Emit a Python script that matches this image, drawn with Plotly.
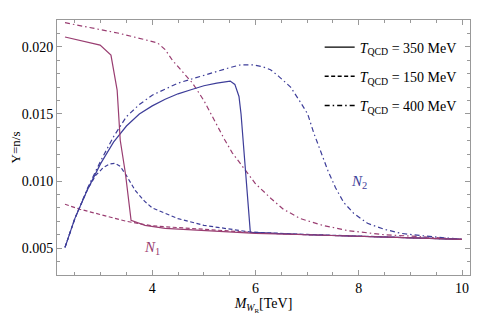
import plotly.graph_objects as go

# N1 (magenta) curves
n1_350_x = [2.31, 2.99, 3.20, 3.32, 3.38, 3.48, 3.59, 3.86, 4.25, 5.0, 6.0, 7.0, 8.0, 9.0, 10.0]
n1_350_y = [0.02073, 0.02013, 0.01939, 0.01678, 0.01304, 0.01058, 0.00707, 0.0067, 0.00648, 0.0063, 0.0061, 0.00600, 0.00590, 0.00578, 0.00566]

n1_150_x = [2.31, 2.6, 3.0, 3.5, 4.0, 5.0, 6.0, 7.0, 8.0, 9.0, 10.0]
n1_150_y = [0.00827, 0.0079, 0.0075, 0.0070, 0.00666, 0.0064, 0.00615, 0.0060, 0.0059, 0.00578, 0.00566]

n1_400_x = [2.31, 3.37, 4.1, 4.25, 4.39, 4.6, 4.78, 5.0, 5.2, 5.4, 5.55, 5.71, 6.0, 6.3, 6.54, 6.87, 7.3, 7.8, 8.5, 9.0, 10.0]
n1_400_y = [0.0218, 0.0210, 0.0203, 0.0198, 0.0190, 0.0181, 0.0173, 0.0160, 0.0145, 0.0131, 0.0121, 0.0113, 0.0098, 0.0087, 0.0079, 0.0072, 0.0067, 0.0063, 0.0060, 0.0059, 0.00566]

# N2 (blue) curves
n2_350_x = [2.31, 2.5, 2.75, 3.0, 3.25, 3.5, 3.75, 4.0, 4.25, 4.5, 4.75, 5.0, 5.25, 5.51, 5.6, 5.68, 5.72, 5.9, 7.0, 8.0, 9.0, 10.0]
n2_350_y = [0.00506, 0.0072, 0.0094, 0.0113, 0.0129, 0.0141, 0.0150, 0.0156, 0.0161, 0.0165, 0.0168, 0.0171, 0.0173, 0.01745, 0.0172, 0.0163, 0.0150, 0.00618, 0.0060, 0.0059, 0.00578, 0.00566]

n2_150_x = [2.31, 2.5, 2.75, 2.9, 3.05, 3.18, 3.28, 3.38, 3.5, 3.67, 3.85, 4.0, 4.25, 4.5, 5.0, 5.5, 5.9, 7.0, 8.0, 9.0, 10.0]
n2_150_y = [0.00506, 0.0072, 0.0094, 0.0104, 0.0110, 0.01128, 0.01133, 0.0111, 0.0104, 0.0093, 0.0085, 0.0080, 0.0076, 0.0072, 0.0067, 0.0064, 0.0062, 0.00602, 0.0059, 0.00578, 0.00566]

n2_400_x = [2.31, 2.5, 2.75, 3.0, 3.25, 3.5, 3.75, 4.0, 4.5, 5.0, 5.5, 5.71, 5.95, 6.15, 6.29, 6.45, 6.68, 6.87, 7.01, 7.13, 7.26, 7.40, 7.55, 7.71, 7.9, 8.17, 8.5, 8.82, 9.3, 10.0]
n2_400_y = [0.00506, 0.0072, 0.0095, 0.0115, 0.0133, 0.0148, 0.0157, 0.0164, 0.0173, 0.0179, 0.01845, 0.01866, 0.01866, 0.0185, 0.0183, 0.0178, 0.0170, 0.01588, 0.0150, 0.01357, 0.0122, 0.0108, 0.0095, 0.0084, 0.0076, 0.00685, 0.0064, 0.0061, 0.0059, 0.00566]

x_ticks = [4, 6, 8, 10]
y_ticks = [0.005, 0.010, 0.015, 0.020]
y_tick_text = ["0.005", "0.010", "0.015", "0.020"]
legend_labels = ["<i>T</i><sub>QCD</sub> = 350 MeV",
                 "<i>T</i><sub>QCD</sub> = 150 MeV",
                 "<i>T</i><sub>QCD</sub> = 400 MeV"]

MAG = "#993D71"
BLUE = "#3D3D99"
DASH = "4px,2.5px"
DASHDOT = "5px,3px,1.5px,3px"
FONT = "Liberation Serif"

fig = go.Figure()

def add(x, y, color, dash):
    fig.add_trace(go.Scatter(x=x, y=y, mode="lines", showlegend=False,
                             line=dict(color=color, width=1.2, dash=dash)))

add(n1_400_x, n1_400_y, MAG, DASHDOT)
add(n2_400_x, n2_400_y, BLUE, DASHDOT)
add(n2_150_x, n2_150_y, BLUE, DASH)
add(n1_150_x, n1_150_y, MAG, DASH)
add(n2_350_x, n2_350_y, BLUE, "solid")
add(n1_350_x, n1_350_y, MAG, "solid")

for i, (lab, d) in enumerate(zip(legend_labels, ["solid", DASH, DASHDOT])):
    fig.add_trace(go.Scatter(x=[None], y=[None], mode="lines", name=lab,
                             legendgroup=f"g{i}",
                             line=dict(color="black", width=1.3, dash=d)))

fig.add_annotation(x=4.0, y=0.0050, text="<i>N</i><sub>1</sub>", showarrow=False,
                   font=dict(family=FONT, size=15, color=MAG))
fig.add_annotation(x=8.0, y=0.0099, text="<i>N</i><sub>2</sub>", showarrow=False,
                   font=dict(family=FONT, size=15, color=BLUE))

axis_common = dict(showline=True, linecolor="#999999", linewidth=1, mirror="allticks",
                   ticks="inside", ticklen=5, tickcolor="#999999", showgrid=False,
                   zeroline=False, automargin=False,
                   tickfont=dict(family=FONT, size=14, color="black"))

fig.update_xaxes(range=[2.155, 10.155], tickvals=x_ticks,
                 minor=dict(dtick=0.5, ticks="inside", ticklen=3, tickcolor="#999999", showgrid=False),
                 title=dict(text="<i>M</i><sub><i>W</i><sub>R</sub></sub>[TeV]",
                            font=dict(family=FONT, size=14, color="black"), standoff=4),
                 **axis_common)
fig.update_yaxes(range=[0.003, 0.022], tickvals=y_ticks, ticktext=y_tick_text,
                 minor=dict(dtick=0.001, ticks="inside", ticklen=3, tickcolor="#999999", showgrid=False),
                 title=dict(text="Y=n/s", font=dict(family=FONT, size=13, color="black"), standoff=4),
                 **axis_common)

# page body adds an 8px offset, so the figure is sized/margined to compensate
fig.update_layout(width=483, height=306,
                  margin=dict(l=49, r=21, t=12, b=39),
                  paper_bgcolor="white", plot_bgcolor="white",
                  legend=dict(x=0.636, y=0.955, xanchor="left", yanchor="top",
                              bgcolor="rgba(0,0,0,0)", tracegroupgap=8,
                              font=dict(family=FONT, size=14, color="black")))

fig.write_html("out.html")
